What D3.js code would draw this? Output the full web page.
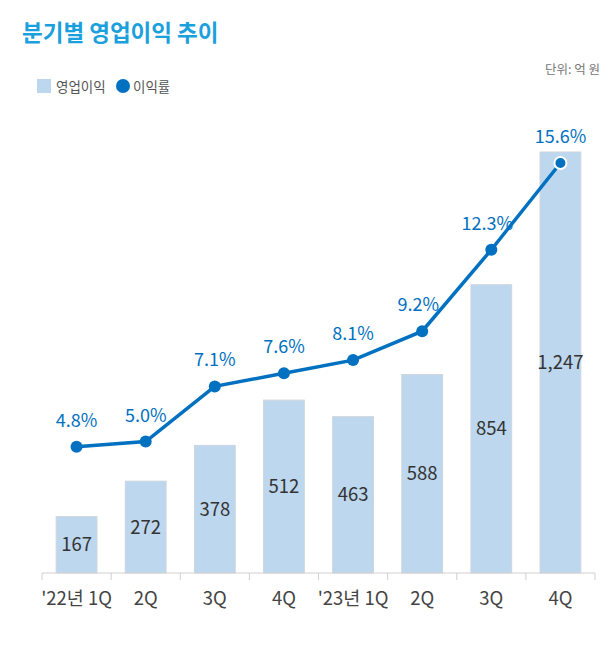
<!DOCTYPE html>
<html><head><meta charset="utf-8">
<script src="https://cdn.jsdelivr.net/npm/d3@7"></script>
<style>
body{margin:0;background:#fff;}
svg{display:block;font-family:"Noto Sans CJK KR","Noto Sans",sans-serif;}
</style></head>
<body><svg id="c" width="616" height="651"></svg>
<script>
const categories = ["'22년 1Q","2Q","3Q","4Q","'23년 1Q","2Q","3Q","4Q"];
const profit = [167,272,378,512,463,588,854,1247];
const margin = [4.8,5.0,7.1,7.6,8.1,9.2,12.3,15.6];
const marginLabels = ["4.8%","5.0%","7.1%","7.6%","8.1%","9.2%","12.3%","15.6%"];
const profitLabels = ["167","272","378","512","463","588","854","1,247"];

const svg = d3.select("#c");
const x0 = 42, x1 = 595, base = 573;

svg.append("text").attr("x",22).attr("y",41).attr("font-size",22.5).attr("font-weight",700)
  .attr("fill","#1aa0dc").text("분기별 영업이익 추이");
svg.append("text").attr("x",600).attr("y",74).attr("text-anchor","end").attr("font-size",12.5)
  .attr("fill","#777").text("단위: 억 원");

// legend
svg.append("rect").attr("x",37).attr("y",79).attr("width",14).attr("height",14).attr("fill","#bdd7ee");
svg.append("text").attr("x",56).attr("y",91.5).attr("font-size",13.5).attr("fill","#555").text("영업이익");
svg.append("circle").attr("cx",123).attr("cy",86).attr("r",7).attr("fill","#0070c0");
svg.append("text").attr("x",133).attr("y",91.5).attr("font-size",13.5).attr("fill","#555").text("이익률");

const x = d3.scaleBand().domain(d3.range(categories.length)).range([x0,x1]).paddingInner(0.41).paddingOuter(0.205);
const y = d3.scaleLinear().domain([0,1247]).range([base,152]);
const y2 = d3.scaleLinear().domain([0,15.6]).range([base,163]);

svg.selectAll("rect.bar").data(profit).enter().append("rect").attr("class","bar")
  .attr("x",(d,i)=>x(i)).attr("width",x.bandwidth())
  .attr("y",d=>y(d)).attr("height",d=>base-y(d))
  .attr("fill","#bdd7ee").attr("stroke","#cdd5de").attr("stroke-width",1);

svg.selectAll("text.val").data(profit).enter().append("text").attr("class","val")
  .attr("x",(d,i)=>x(i)+x.bandwidth()/2).attr("y",d=>(y(d)+base)/2+6.5)
  .attr("text-anchor","middle").attr("font-size",18.5).attr("fill","#333")
  .text((d,i)=>profitLabels[i]);

// axis
svg.append("line").attr("x1",x0).attr("x2",x1).attr("y1",base).attr("y2",base).attr("stroke","#d0d0d0");
d3.range(categories.length+1).forEach(i=>{
  const tx = x0 + (x1-x0)*i/categories.length;
  svg.append("line").attr("x1",tx).attr("x2",tx).attr("y1",base).attr("y2",base+7).attr("stroke","#d0d0d0");
});
svg.selectAll("text.cat").data(categories).enter().append("text").attr("class","cat")
  .attr("x",(d,i)=>x(i)+x.bandwidth()/2).attr("y",605)
  .attr("text-anchor","middle").attr("font-size",18.5).attr("fill","#444").text(d=>d);

// line
const cx = i => x(i)+x.bandwidth()/2;
svg.append("path").datum(margin)
  .attr("d",d3.line().x((d,i)=>cx(i)).y(d=>y2(d)))
  .attr("fill","none").attr("stroke","#0070c0").attr("stroke-width",3.5);
svg.selectAll("circle.dot").data(margin).enter().append("circle").attr("class","dot")
  .attr("cx",(d,i)=>cx(i)).attr("cy",d=>y2(d)).attr("r",6)
  .attr("fill","#0070c0").attr("stroke",(d,i)=>i===margin.length-1?"#fff":"none").attr("stroke-width",2);
svg.selectAll("text.pct").data(margin).enter().append("text").attr("class","pct")
  .attr("x",(d,i)=>cx(i)-(i===5||i===6?4:0)).attr("y",d=>y2(d)-20)
  .attr("text-anchor","middle").attr("font-size",18).attr("fill","#0070c0")
  .text((d,i)=>marginLabels[i]);
</script></body></html>
